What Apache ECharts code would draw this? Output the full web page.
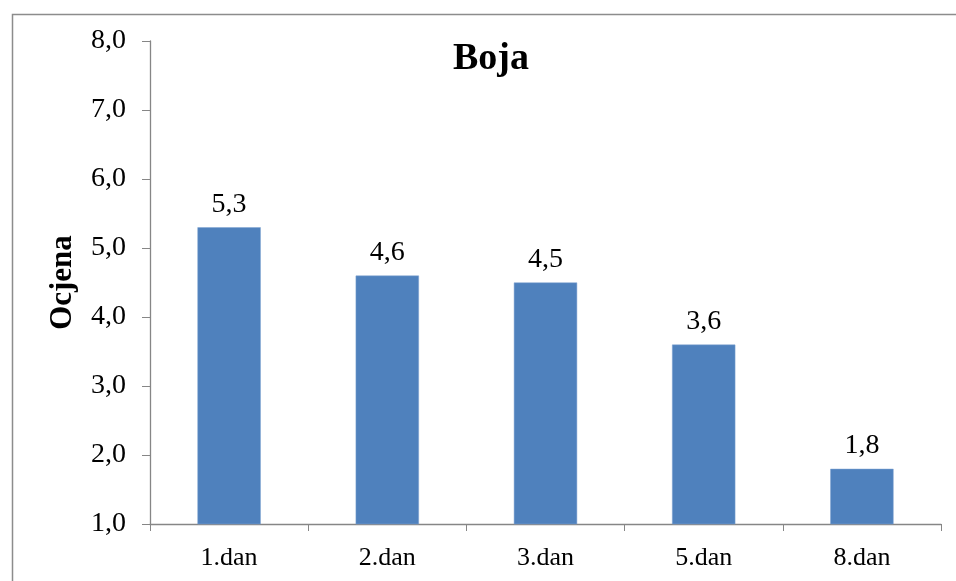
<!DOCTYPE html>
<html>
<head>
<meta charset="utf-8">
<script src="https://cdn.jsdelivr.net/npm/echarts@6/dist/echarts.min.js"></script>
<style>html,body{margin:0;padding:0;background:#fff}#c{width:956px;height:581px}</style>
</head>
<body>
<div id="c"></div>
<script>
const categories = ['1.dan', '2.dan', '3.dan', '5.dan', '8.dan'];
const values = [5.3, 4.6, 4.5, 3.6, 1.8];
const titleText = 'Boja';
const yName = 'Ocjena';

const chart = echarts.init(document.getElementById('c'));
const fmt = v => v.toFixed(1).replace('.', ',');
chart.setOption({
  animation: false,
  title: {
    text: titleText, left: 486, top: 35, textAlign: 'center',
    textStyle: {fontFamily: 'Liberation Serif', fontSize: 38, fontWeight: 'bold', color: '#000'}
  },
  graphic: [{
    type: 'rect', left: 10, top: 12, shape: {width: 1000, height: 700},
    style: {fill: 'none', stroke: '#8c8c8c', lineWidth: 1.5}, silent: true, z: -1
  }],
  grid: {left: 150, right: 15, top: 41, bottom: 57},
  xAxis: {
    type: 'category', data: categories,
    axisLine: {lineStyle: {color: '#868686', width: 1.3}},
    axisTick: {show: true, length: 7, alignWithLabel: false, lineStyle: {color: '#868686'}},
    axisLabel: {fontFamily: 'Liberation Serif', fontSize: 26, color: '#000', margin: 21}
  },
  yAxis: {
    type: 'value', min: 1, max: 8, interval: 1,
    name: yName, nameLocation: 'middle', nameGap: 72, nameRotate: 90,
    nameTextStyle: {fontFamily: 'Liberation Serif', fontSize: 31, fontWeight: 'bold', color: '#000'},
    axisLine: {show: true, lineStyle: {color: '#868686', width: 1.3}},
    axisTick: {show: true, length: 8, lineStyle: {color: '#868686'}},
    splitLine: {show: false},
    axisLabel: {fontFamily: 'Liberation Serif', fontSize: 28, color: '#000', margin: 24, formatter: fmt}
  },
  series: [{
    type: 'bar', data: values, barWidth: '40%',
    itemStyle: {color: '#4F81BD', borderColor: '#7FA3D0', borderWidth: 0.5},
    label: {show: true, position: 'top', distance: 9, fontFamily: 'Liberation Serif', fontSize: 28, color: '#000', formatter: p => fmt(p.value)}
  }]
});
</script>
</body>
</html>
